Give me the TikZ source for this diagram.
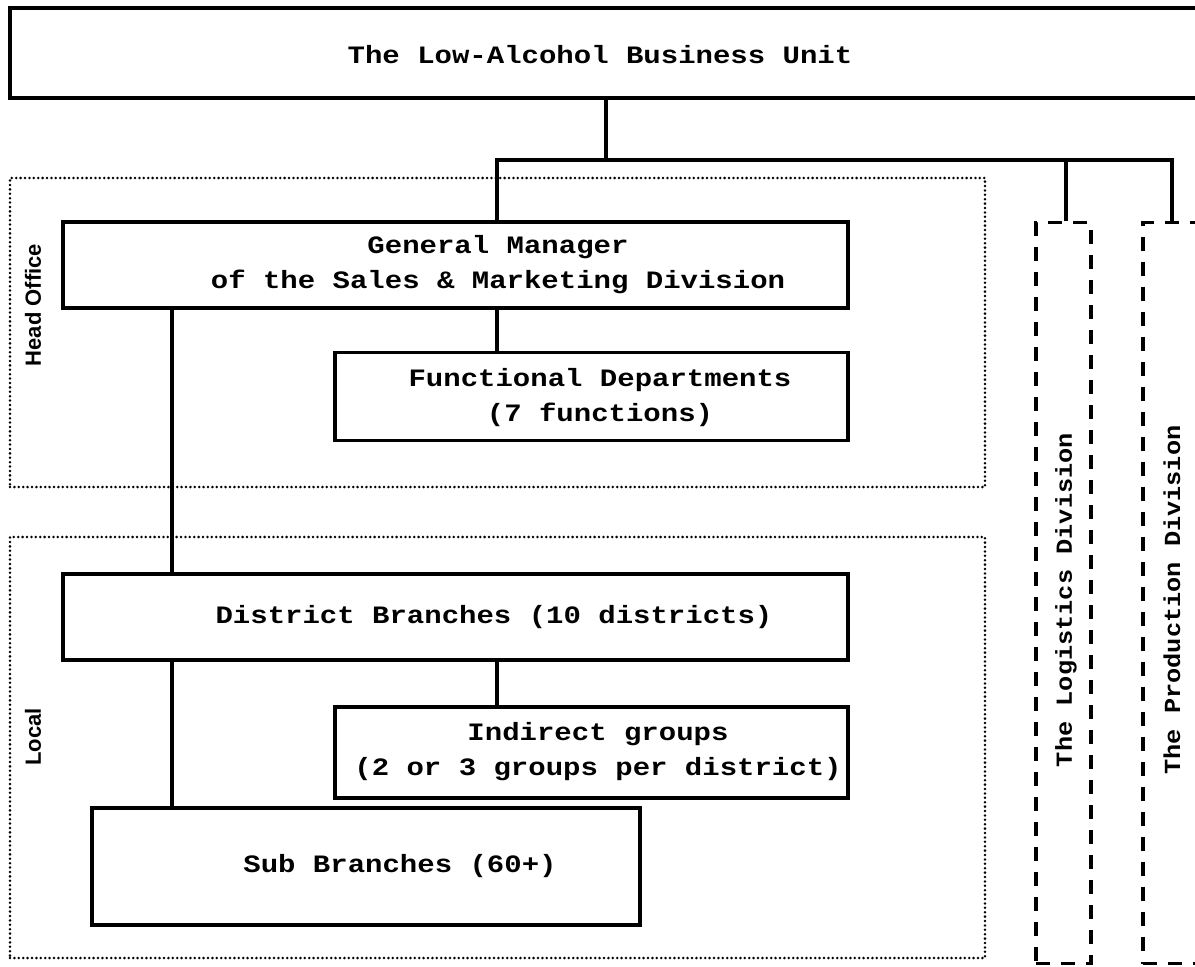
\documentclass[tikz,border=0pt]{standalone}
\usepackage{fontspec}
\newfontfamily\cour[FakeStretch=1.16]{Liberation Mono}
\newfontfamily\courv[FakeStretch=1.1]{Liberation Mono}
\newfontfamily\arialf{Liberation Sans}
\begin{document}
\begin{tikzpicture}[x=1pt,y=-1pt,
 box/.style={draw, line width=3.2pt, rectangle, inner sep=0pt},
 txt/.style={align=center, inner sep=0pt, font=\cour\bfseries\fontsize{25}{35}\selectfont},
 region/.style={draw, line width=2.8pt, line cap=round, dash pattern=on 0pt off 4.4pt, inner sep=0pt},
 dbox/.style={draw, line width=3.2pt, dash pattern=on 14pt off 11pt, inner sep=0pt},
 conn/.style={line width=3.2pt},
 side/.style={font=\arialf\bfseries\fontsize{22}{26}\selectfont, rotate=90},
 vtxt/.style={font=\courv\bfseries\fontsize{23}{26}\selectfont, rotate=90}]
\useasboundingbox (0,0) rectangle (1195,967);
\clip (0,0) rectangle (1195,967);
% regions
\node[region, minimum width=975pt, minimum height=309pt] (ho) at (497.5,332.5) {};
\node[region, minimum width=975pt, minimum height=421pt] (loc) at (497.5,747.5) {};
\node[side] (hol) at (33,305) {Head Office};
\node[side] (locl) at (33,737) {Local};
% boxes
\node[box, minimum width=1200pt, minimum height=90pt] (top) at (610,53) {};
\node[txt] (toptxt) at (600,55) {The Low-Alcohol Business Unit};
\node[box, minimum width=785pt, minimum height=86pt] (gm) at (455.5,265) {};
\node[txt] (gmtxt) at (498,265) {General Manager\\of the Sales \& Marketing Division};
\node[box, minimum width=513pt, minimum height=88pt] (fd) at (591.5,396.5) {};
\node[txt] (fdtxt) at (600,398) {Functional Departments\\(7 functions)};
\node[box, minimum width=785pt, minimum height=86pt] (dist) at (455.5,617) {};
\node[txt] (disttxt) at (494,617) {District Branches (10 districts)};
\node[box, minimum width=513pt, minimum height=91pt] (ind) at (591.5,752.5) {};
\node[txt] (indtxt) at (598,752) {Indirect groups\\(2 or 3 groups per district)};
\node[box, minimum width=548pt, minimum height=117pt] (sub) at (366,866.5) {};
\node[txt] (subtxt) at (400,866) {Sub Branches (60+)};
% dashed divisions
\node[dbox, minimum width=55pt, minimum height=741pt] (log) at (1063.5,593) {};
\node[dbox, minimum width=60pt, minimum height=741pt] (prod) at (1173,593) {};
\node[vtxt] (logt) at (1066,600) {The Logistics Division};
\node[vtxt] (prodt) at (1172,600) {The Production Division};
% connectors
\coordinate (bus) at (606,160);
\coordinate (xa) at (497,0);
\coordinate (xb) at (172,0);
\coordinate (xl) at (1066,0);
\coordinate (xp) at (1172,0);
\draw[conn] (top.south -| bus) -- (bus);
\draw[conn] (gm.north -| xa) |- (bus) -| (prod.north -| xp);
\draw[conn] (bus -| xl) -- (log.north -| xl);
\draw[conn] (gm.south -| xb) -- (dist.north -| xb);
\draw[conn] (gm.south -| xa) -- (fd.north -| xa);
\draw[conn] (dist.south -| xa) -- (ind.north -| xa);
\draw[conn] (dist.south -| xb) -- (sub.north -| xb);
\end{tikzpicture}
\end{document}
